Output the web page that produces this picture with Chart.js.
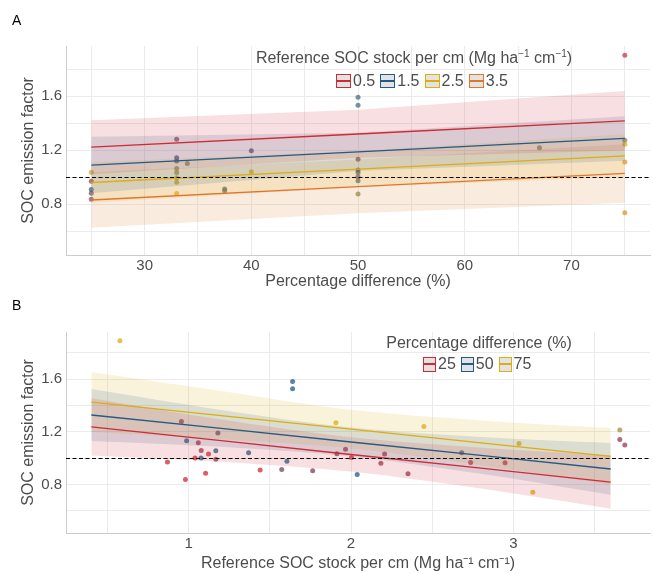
<!DOCTYPE html>
<html>
<head>
<meta charset="utf-8">
<script src="https://cdn.jsdelivr.net/npm/chart.js@4.4.1/dist/chart.umd.min.js"></script>
<style>
  body { margin: 0; background: #fff; font-family: "Liberation Sans", Arial, sans-serif; color: #4d4d4d; }
  #wrap { position: relative; width: 654px; height: 574px; overflow: hidden; }
  canvas { position: absolute; left: 0; }
  #chartA { top: 0; }
  #chartB { top: 290px; }
  .tag { position: absolute; left: 12px; font-size: 14px; line-height: 1; color: #000; }
  .leg-title { position: absolute; font-size: 16px; line-height: 20px; white-space: nowrap; transform: translateX(-50%); }
  .leg-title sup { font-size: 10px; line-height: 0; }
  .leg-row { position: absolute; display: flex; align-items: center; height: 16px; font-size: 16px; line-height: 16px; }
  .key { position: relative; flex: none; box-sizing: border-box; border: 1.3px solid; background: #e3e3e3; margin-right: 2px; }
  .key i { position: absolute; left: 0; right: 0; top: 50%; height: 2px; margin-top: -1px; }
  .lab { flex: none; margin-right: 5px; }
</style>
</head>
<body>
<div id="wrap">
  <canvas id="chartA" width="654" height="290"></canvas>
  <canvas id="chartB" width="654" height="284"></canvas>
  <div class="tag" style="top:13px">A</div>
  <div class="tag" style="top:298px">B</div>
  <div class="leg-title" style="left:414px;top:48px">Reference SOC stock per cm (Mg ha<sup>−1</sup> cm<sup>−1</sup>)</div>
  <div class="leg-row" id="legA" style="left:336px;top:73px"></div>
  <div class="leg-title" style="left:479px;top:333px">Percentage difference (%)</div>
  <div class="leg-row" id="legB" style="left:423px;top:356px"></div>
</div>
<script>
'use strict';

// ── paleta ──────────────────────────────────────────────────────────────────
const COLOR_RED    = '#cf2a36';
const COLOR_BLUE   = '#215b86';
const COLOR_YELLOW = '#dcae12';
const COLOR_ORANGE = '#e0762b';
const COLOR_TEXT   = '#4d4d4d';
const COLOR_GRID   = '#ebebeb';
const COLOR_AXIS   = '#cccccc';
const BAND_ALPHA   = 0.15;

const REF_EF = 1.0;   // linha tracejada

// ── painel A: fator vs diferença percentual ─────────────────────────────────
const A_GROUPS = ['0.5', '1.5', '2.5', '3.5'];
const A_STOCK_KEYS = [0.5, 1.5, 2.5, 3.5];
const A_PCT_GRID = [25, 50, 75];

const A_FIT_05 = [1.222, 1.320, 1.418];
const A_LO_05  = [1.022, 1.143, 1.198];
const A_HI_05  = [1.422, 1.500, 1.639];
const A_FIT_15 = [1.089, 1.188, 1.287];
const A_LO_15  = [0.880, 1.045, 1.122];
const A_HI_15  = [1.300, 1.330, 1.452];
const A_FIT_25 = [0.960, 1.059, 1.158];
const A_LO_25  = [0.810, 0.925, 1.000];
const A_HI_25  = [1.110, 1.195, 1.318];
const A_FIT_35 = [0.830, 0.929, 1.027];
const A_LO_35  = [0.624, 0.731, 0.810];
const A_HI_35  = [1.036, 1.130, 1.244];

const A_PT_PCT   = [25, 25, 25, 25, 25, 33, 33, 33, 33, 33, 33, 33, 33, 34, 37.5, 37.5, 40, 40,
                    50, 50, 50, 50, 50, 50, 50, 50, 67, 75, 75, 75, 75, 75];
const A_PT_EF    = [1.037, 0.970, 0.909, 0.881, 0.835, 1.281, 1.143, 1.119, 1.064, 1.035, 0.995, 0.961, 0.879,
                    1.101, 0.911, 0.899, 1.195, 1.039, 1.593, 1.533, 1.133, 1.052, 1.035, 1.002, 0.973, 0.874,
                    1.217, 1.904, 1.274, 1.244, 1.113, 0.736];
const A_PT_STOCK = [2.4, 0.8, 1.45, 1.1, 0.95, 0.96, 1.35, 1.2, 2.0, 1.95, 2.2, 2.3, 2.5,
                    1.9, 1.6, 1.8, 1.2, 2.6, 1.64, 1.64, 0.99, 1.2, 1.4, 1.08, 1.6, 2.04,
                    1.9, 0.58, 1.91, 2.45, 3.03, 3.12];

const A_X_GRID  = [25, 30, 35, 40, 45, 50, 55, 60, 65, 70, 75];
const A_X_LABEL = [30, 40, 50, 60, 70];

// ── painel B: fator vs estoque de referência ───────────────────────────────
const B_GROUPS = ['25', '50', '75'];
const B_PCT_KEYS = [25, 50, 75];
const B_STOCK_GRID = [0.4, 1.2, 2.0, 2.8, 3.6];

const B_FIT_25 = [1.237, 1.132, 1.027, 0.923, 0.818];
const B_LO_25  = [1.020, 0.972, 0.897, 0.768, 0.615];
const B_HI_25  = [1.454, 1.292, 1.157, 1.078, 1.021];
const B_FIT_50 = [1.327, 1.225, 1.122, 1.020, 0.917];
const B_LO_50  = [1.130, 1.085, 1.012, 0.880, 0.720];
const B_HI_50  = [1.524, 1.365, 1.232, 1.160, 1.114];
const B_FIT_75 = [1.425, 1.322, 1.219, 1.116, 1.013];
const B_LO_75  = [1.197, 1.142, 1.072, 0.946, 0.798];
const B_HI_75  = [1.653, 1.510, 1.366, 1.286, 1.228];

const B_PT_STOCK = [0.576, 1.640, 1.640, 0.955, 1.180, 0.987, 1.059, 1.077, 1.167, 1.122, 1.039, 1.076, 1.167,
                    1.369, 0.869, 1.605, 1.573, 1.440, 1.764, 1.104, 0.980, 1.907, 1.913, 1.966, 2.003, 2.038,
                    2.207, 2.184, 2.351, 2.449, 2.682, 2.737, 2.949, 3.035, 3.120, 3.656, 3.656, 3.687];
const B_PT_EF    = [1.891, 1.582, 1.526, 1.278, 1.190, 1.131, 1.116, 1.058, 1.056, 1.031, 1.000, 1.000, 0.990,
                    1.040, 0.970, 0.975, 0.914, 0.909, 0.904, 0.884, 0.838, 1.268, 1.033, 1.066, 1.005, 0.876,
                    1.031, 0.960, 0.881, 1.240, 1.040, 0.967, 0.964, 1.111, 0.741, 1.213, 1.141, 1.099];
const B_PT_PCT   = [75, 50, 50, 33, 40, 50, 33, 33, 50, 25, 25, 50, 33,
                    50, 25, 50, 37.5, 25, 37.5, 25, 25, 75, 33, 33, 25, 50,
                    33, 33, 33, 75, 40, 25, 25, 75, 75, 67, 33, 33];

const B_X_GRID  = [0.5, 1, 1.5, 2, 2.5, 3, 3.5];
const B_X_LABEL = [1, 2, 3];

const Y_GRID  = [0.6, 0.8, 1.0, 1.2, 1.4, 1.6, 1.8];
const Y_LABEL = [0.8, 1.2, 1.6];

// ── helpers ─────────────────────────────────────────────────────────────────
function hexRgb(hex) {
    const n = parseInt(hex.slice(1), 16);
    return [(n >> 16) & 255, (n >> 8) & 255, n & 255];
}

function rgba(hex, a) {
    const [r, g, b] = hexRgb(hex);
    return `rgba(${r},${g},${b},${a})`;
}

// gradiente contínuo entre as cores-chave (como a escala de cor do ggplot)
function gradient(keys, colors, v, a) {
    const rgb = colors.map(hexRgb);
    if (v <= keys[0]) return `rgba(${rgb[0].join(',')},${a})`;
    for (let i = 1; i < keys.length; i++) {
        if (v <= keys[i]) {
            const t = (v - keys[i - 1]) / (keys[i] - keys[i - 1]);
            const c = rgb[i - 1].map((c0, k) => Math.round(c0 + (rgb[i][k] - c0) * t));
            return `rgba(${c.join(',')},${a})`;
        }
    }
    return `rgba(${rgb[rgb.length - 1].join(',')},${a})`;
}

const xy = (xs, ys) => xs.map((x, i) => ({ x, y: ys[i] }));

function groupDatasets(grid, fits, los, his, colors, tension) {
    const out = [];
    fits.forEach((fit, g) => {
        out.push({
            type: 'line', data: xy(grid, his[g]), fill: '+1',
            backgroundColor: rgba(colors[g], BAND_ALPHA), borderWidth: 0, pointRadius: 0,
            tension, order: 2,
        });
        out.push({
            type: 'line', data: xy(grid, los[g]), fill: false,
            borderWidth: 0, pointRadius: 0, tension, order: 2,
        });
        out.push({
            type: 'line', data: xy(grid, fit), fill: false,
            borderColor: colors[g], borderWidth: 1.3, pointRadius: 0, order: 1,
        });
    });
    return out;
}

const refLine = {
    id: 'refLine',
    afterDatasetsDraw(chart) {
        const { ctx, chartArea, scales } = chart;
        const y = Math.round(scales.y.getPixelForValue(REF_EF)) + 0.5;
        ctx.save();
        ctx.setLineDash([4, 2.5]);
        ctx.strokeStyle = '#000';
        ctx.lineWidth = 1.2;
        ctx.beginPath();
        ctx.moveTo(chartArea.left, y);
        ctx.lineTo(chartArea.right, y);
        ctx.stroke();
        ctx.restore();
    },
};

function makePanel(id, p) {
    return new Chart(document.getElementById(id), {
        type: 'scatter',
        data: { datasets: p.datasets },
        plugins: [refLine],
        options: {
            responsive: false,
            devicePixelRatio: 1,
            animation: false,
            events: [],
            layout: { padding: { top: p.padTop, right: 0, bottom: 0, left: 0 } },
            plugins: { legend: { display: false }, tooltip: { enabled: false } },
            scales: {
                x: {
                    type: 'linear', min: p.xMin, max: p.xMax,
                    afterBuildTicks: s => { s.ticks = p.xGrid.map(v => ({ value: v })); },
                    afterFit: s => { s.height = p.xAxisH; },
                    grid: { color: COLOR_GRID, drawTicks: false },
                    border: { color: COLOR_AXIS, width: 1 },
                    ticks: {
                        padding: 2, color: COLOR_TEXT, autoSkip: false, maxRotation: 0,
                        font: { size: 15, lineHeight: 1.2 },
                        callback: v => p.xLabel.includes(v) ? String(v) : '',
                    },
                    title: {
                        display: true, text: p.xTitle, color: COLOR_TEXT,
                        font: { size: 16, lineHeight: 1 }, padding: { top: 0, bottom: p.xTitlePad },
                    },
                },
                y: {
                    type: 'linear', min: p.yMin, max: p.yMax,
                    afterBuildTicks: s => { s.ticks = Y_GRID.map(v => ({ value: v })); },
                    afterFit: s => { s.width = 66; },
                    grid: { color: COLOR_GRID, drawTicks: false },
                    border: { color: COLOR_AXIS, width: 1 },
                    ticks: {
                        padding: 4, color: COLOR_TEXT, font: { size: 15 },
                        callback: v => Y_LABEL.includes(v) ? v.toFixed(1) : '',
                    },
                    title: {
                        display: true, text: 'SOC emission factor', color: COLOR_TEXT,
                        font: { size: 16, lineHeight: 1 }, padding: { top: 21, bottom: 0 },
                    },
                },
            },
        },
    });
}

function buildLegend(id, labels, colors, w, h) {
    document.getElementById(id).innerHTML = labels.map((l, i) =>
        `<span class="key" style="width:${w}px;height:${h}px;border-color:${colors[i]}">` +
        `<i style="background:${colors[i]}"></i></span><span class="lab">${l}</span>`
    ).join('');
}

// ── init ────────────────────────────────────────────────────────────────────
Chart.defaults.font.family = '"Liberation Sans", Arial, sans-serif';

const A_COLORS = [COLOR_RED, COLOR_BLUE, COLOR_YELLOW, COLOR_ORANGE];
const B_COLORS = [COLOR_RED, COLOR_BLUE, COLOR_YELLOW];

makePanel('chartA', {
    padTop: 46, xAxisH: 35, xTitlePad: 0,
    xMin: 22.63, xMax: 77.36, yMin: 0.422, yMax: 1.973,
    xGrid: A_X_GRID, xLabel: A_X_LABEL,
    xTitle: 'Percentage difference (%)',
    datasets: [
        {
            data: xy(A_PT_PCT, A_PT_EF), order: 3, pointRadius: 2.5, borderWidth: 0,
            pointBackgroundColor: A_PT_STOCK.map(v => gradient(A_STOCK_KEYS, A_COLORS, v, 0.7)),
        },
        ...groupDatasets(A_PCT_GRID,
            [A_FIT_05, A_FIT_15, A_FIT_25, A_FIT_35],
            [A_LO_05, A_LO_15, A_LO_25, A_LO_35],
            [A_HI_05, A_HI_15, A_HI_25, A_HI_35], A_COLORS, 0),
    ],
});

makePanel('chartB', {
    padTop: 42, xAxisH: 41, xTitlePad: 2,
    xMin: 0.244, xMax: 3.842, yMin: 0.431, yMax: 1.957,
    xGrid: B_X_GRID, xLabel: B_X_LABEL,
    xTitle: 'Reference SOC stock per cm (Mg ha⁻¹ cm⁻¹)',
    datasets: [
        {
            data: xy(B_PT_STOCK, B_PT_EF), order: 3, pointRadius: 2.5, borderWidth: 0,
            pointBackgroundColor: B_PT_PCT.map(v => gradient(B_PCT_KEYS, B_COLORS, v, 0.75)),
        },
        ...groupDatasets(B_STOCK_GRID,
            [B_FIT_25, B_FIT_50, B_FIT_75],
            [B_LO_25, B_LO_50, B_LO_75],
            [B_HI_25, B_HI_50, B_HI_75], B_COLORS, 0.3),
    ],
});

buildLegend('legA', A_GROUPS, A_COLORS, 15, 14);
buildLegend('legB', B_GROUPS, B_COLORS, 13, 15);
</script>
</body>
</html>
